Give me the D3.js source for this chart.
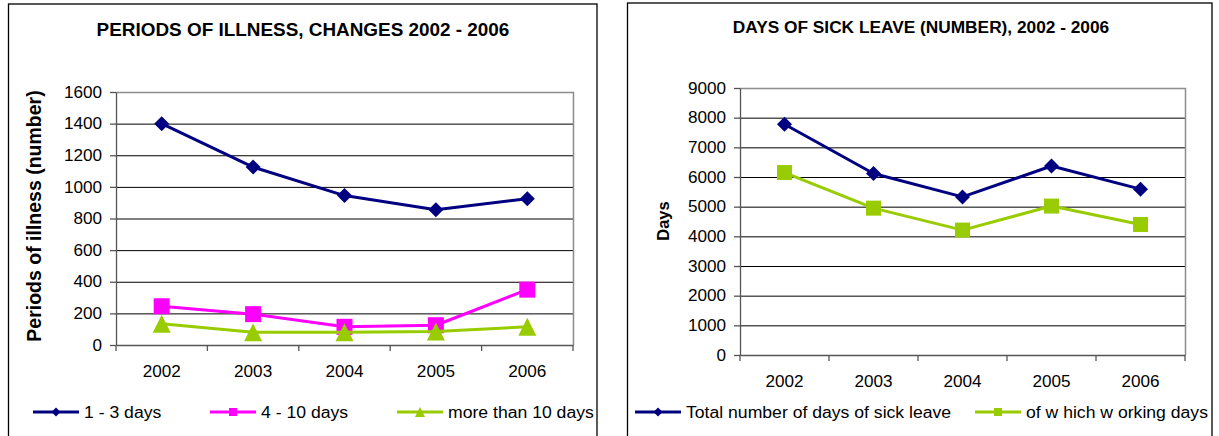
<!DOCTYPE html>
<html>
<head>
<meta charset="utf-8">
<script src="https://cdn.jsdelivr.net/npm/d3@7/dist/d3.min.js"></script>
<style>
  html, body { margin: 0; padding: 0; background: #fff; }
  svg { display: block; font-family: "Liberation Sans", Arial, sans-serif; }
</style>
</head>
<body>
<svg id="chart" width="1219" height="436"></svg>
<script>
// Years shown on both charts
const years = ["2002", "2003", "2004", "2005", "2006"];

// Periods of illness by length
const shortSpells = [1400, 1125, 945, 855, 925];   // 1 - 3 days
const mediumSpells = [245, 195, 115, 125, 350];    // 4 - 10 days
const longSpells = [135, 80, 80, 85, 115];         // more than 10 days
const illnessTicks = [0, 200, 400, 600, 800, 1000, 1200, 1400, 1600];

// Days of sick leave
const totalDays = [7780, 6120, 5330, 6370, 5590];
const workingDays = [6150, 4950, 4210, 5020, 4400];
const daysTicks = [0, 1000, 2000, 3000, 4000, 5000, 6000, 7000, 8000, 9000];

const NAVY = "#000080", MAGENTA = "#FF00FF", LIME = "#99CC00";

const svg = d3.select("#chart");

// widen horizontal text slightly, like the stretched export of the original sheet
function widen(sel, k) {
  sel.each(function () {
    const w = this.getComputedTextLength();
    d3.select(this).attr("textLength", w * k).attr("lengthAdjust", "spacingAndGlyphs");
  });
}

function marker(g, shape, x, y, size, color) {
  if (shape === "diamond") {
    const h = size / 2;
    g.append("path")
      .attr("d", `M${x},${y - h}L${x + h},${y}L${x},${y + h}L${x - h},${y}Z`)
      .attr("fill", color);
  } else if (shape === "square") {
    g.append("rect")
      .attr("x", x - size / 2).attr("y", y - size / 2)
      .attr("width", size).attr("height", size)
      .attr("fill", color);
  } else {
    const h = size / 2;
    g.append("path")
      .attr("d", `M${x},${y - h}L${x + h},${y + h}L${x - h},${y + h}Z`)
      .attr("fill", color);
  }
}

function drawPanel(p) {
  const g = svg.append("g");

  // outer frame
  g.append("rect")
    .attr("x", p.frame[0]).attr("y", p.frame[1])
    .attr("width", p.frame[2] - p.frame[0]).attr("height", p.frame[3] - p.frame[1])
    .attr("fill", "#fff").attr("stroke", "#000").attr("stroke-width", 1.3);

  const x = d3.scaleBand().domain(years).range([p.left, p.right]).padding(0);
  const y = d3.scaleLinear().domain([0, d3.max(p.ticks)]).range([p.bottom, p.top]);

  // gridlines
  g.append("g")
    .attr("transform", `translate(${p.left},0)`)
    .call(d3.axisLeft(y).tickValues(p.ticks.slice(1, -1)).tickSize(-(p.right - p.left)).tickFormat(""))
    .call(s => s.select(".domain").remove())
    .call(s => s.selectAll("line").attr("stroke", "#000").attr("stroke-width", 1));

  // plot area border (top and right)
  g.append("path")
    .attr("d", `M${p.left},${p.top + 0.5}H${p.right + 0.5}V${p.bottom}`)
    .attr("fill", "none").attr("stroke", "#8c8c8c").attr("stroke-width", 1.5);

  // y axis
  const ya = g.append("g")
    .attr("transform", `translate(${p.left},0)`)
    .call(d3.axisLeft(y).tickValues(p.ticks).tickFormat(d3.format("d"))
      .tickSize(6).tickPadding(8).tickSizeOuter(0));
  ya.select(".domain").attr("stroke", "#555").attr("stroke-width", 1.3);
  ya.selectAll("line").attr("stroke", "#555").attr("stroke-width", 1.3);
  ya.selectAll("text")
    .attr("font-family", "Liberation Sans, Arial, sans-serif")
    .attr("font-size", 16).attr("fill", "#000")
    .call(widen, 1.07);

  // x axis: labels at category centres, ticks on category edges
  const xa = g.append("g")
    .attr("transform", `translate(0,${p.bottom})`)
    .call(d3.axisBottom(x).tickSize(0).tickPadding(p.xPad).tickSizeOuter(0));
  xa.select(".domain").attr("stroke", "#555").attr("stroke-width", 1.3);
  xa.selectAll("text")
    .attr("font-family", "Liberation Sans, Arial, sans-serif")
    .attr("font-size", 16).attr("fill", "#000")
    .call(widen, 1.07);
  const edges = years.map(d => x(d)).concat([x(years[years.length - 1]) + x.bandwidth()]);
  xa.selectAll(".edge").data(edges).join("line")
    .attr("class", "edge")
    .attr("x1", d => d).attr("x2", d => d)
    .attr("y1", 0).attr("y2", 6)
    .attr("stroke", "#555").attr("stroke-width", 1.3);

  // series lines and markers
  const cx = d => x(d) + x.bandwidth() / 2;
  p.series.forEach(s => {
    const line = d3.line().x((v, i) => cx(years[i])).y(v => y(v));
    g.append("path")
      .attr("d", line(s.values))
      .attr("fill", "none").attr("stroke", s.color).attr("stroke-width", 3)
      .attr("stroke-linejoin", "round");
    const mg = g.append("g");
    s.values.forEach((v, i) => marker(mg, s.shape, cx(years[i]), y(v), s.size, s.color));
  });

  // title
  g.append("text")
    .attr("x", p.titleX).attr("y", p.titleY)
    .attr("text-anchor", "middle")
    .attr("font-weight", "bold").attr("font-size", p.titleSize)
    .text(p.title)
    .call(widen, 1.08);

  // y axis title
  g.append("text")
    .attr("transform", `translate(${p.yTitleX},${p.yTitleY}) rotate(-90)`)
    .attr("text-anchor", "middle")
    .attr("font-weight", "bold").attr("font-size", p.yTitleSize)
    .text(p.yTitle);

  // legend
  p.series.forEach(s => {
    const lg = g.append("g");
    lg.append("line")
      .attr("x1", s.legX[0]).attr("x2", s.legX[1])
      .attr("y1", p.legY).attr("y2", p.legY)
      .attr("stroke", s.color).attr("stroke-width", 3);
    marker(lg, s.shape, (s.legX[0] + s.legX[1]) / 2, p.legY, s.legSize, s.color);
    lg.append("text")
      .attr("x", s.legX[1] + 5).attr("y", p.legY + 5.5)
      .attr("font-size", 16).attr("fill", "#000")
      .text(s.name)
      .call(widen, 1.1);
  });
}

drawPanel({
  frame: [8.5, 4, 597, 450],
  left: 116, right: 573, top: 92, bottom: 345,
  ticks: illnessTicks, xPad: 21,
  title: "PERIODS OF ILLNESS, CHANGES 2002 - 2006", titleX: 303, titleY: 36, titleSize: 17.5,
  yTitle: "Periods of illness (number)", yTitleX: 41, yTitleY: 216, yTitleSize: 19.5,
  legY: 412,
  series: [
    { name: "1 - 3 days", values: shortSpells, color: NAVY, shape: "diamond", size: 15, legSize: 9, legX: [33, 79] },
    { name: "4 - 10 days", values: mediumSpells, color: MAGENTA, shape: "square", size: 16, legSize: 8, legX: [210, 256] },
    { name: "more than 10 days", values: longSpells, color: LIME, shape: "triangle", size: 18, legSize: 10, legX: [397, 443] }
  ]
});

drawPanel({
  frame: [627.5, 3, 1212, 450],
  left: 740, right: 1185, top: 88, bottom: 355,
  ticks: daysTicks, xPad: 21,
  title: "DAYS OF SICK LEAVE (NUMBER), 2002 - 2006", titleX: 921, titleY: 33, titleSize: 16,
  yTitle: "Days", yTitleX: 668.5, yTitleY: 221, yTitleSize: 16.5,
  legY: 412,
  series: [
    { name: "Total number of days of sick leave", values: totalDays, color: NAVY, shape: "diamond", size: 15, legSize: 9, legX: [635, 681] },
    { name: "of w hich w orking days", values: workingDays, color: LIME, shape: "square", size: 15, legSize: 8, legX: [975, 1021] }
  ]
});
</script>
</body>
</html>
